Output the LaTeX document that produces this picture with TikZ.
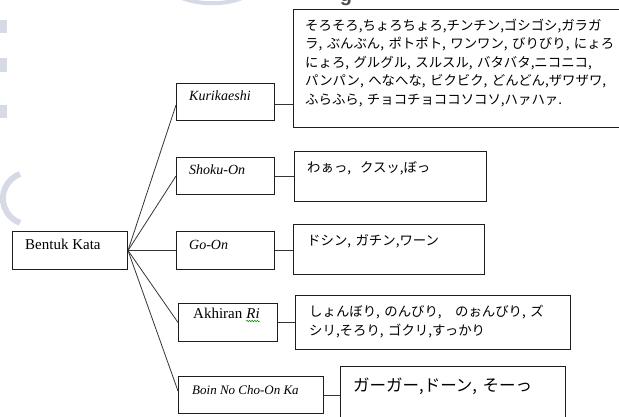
\documentclass[tikz,border=0pt]{standalone}
\usepackage{fontspec}
\setmainfont{Liberation Serif}
\newfontfamily\jpf{Noto Sans CJK JP}
\newfontfamily\wmf{Liberation Sans}
\usetikzlibrary{decorations.pathmorphing}
\definecolor{wm}{RGB}{214,217,230}
\definecolor{edge}{RGB}{30,30,30}
\begin{document}
\begin{tikzpicture}[x=1pt,y=-1pt,
  box/.style={draw=edge, line width=1pt, inner sep=0pt, anchor=north west},
  conn/.style={draw=edge!90, line width=0.8pt},
  lat/.style={inner sep=0pt, anchor=base west, font=\fontsize{14}{16}\selectfont\itshape},
  latup/.style={inner sep=0pt, anchor=base west, font=\fontsize{15}{17}\selectfont},
  jp/.style={inner sep=0pt, anchor=base west, align=left, text width=#1,
    font=\jpf\fontsize{13.4}{18.6}\selectfont},
  jp/.default=330pt]
\useasboundingbox (0,0) rectangle (619,416);
% faint watermark remnants
\fill[wm] (0,20) rectangle (7,33);
\fill[wm] (0,58) rectangle (7,72);
\fill[wm] (0,105) rectangle (7,118);
\draw[wm, line width=6pt] (20,174) arc[start angle=110, end angle=250, radius=26pt];
\draw[wm, line width=4pt] (182,-2) .. controls (200,5) and (225,5) .. (242,-2);
\node[inner sep=0pt, anchor=base, text=black!70, font=\wmf\bfseries\fontsize{20}{22}\selectfont] (wmg) at (346,1) {g};
% label boxes
\node[box, minimum width=115pt, minimum height=38pt] (bentuk) at (12,231) {};
\node[box, minimum width=98pt, minimum height=37pt] (kuri) at (176,83) {};
\node[box, minimum width=98pt, minimum height=37pt] (shoku) at (176,157) {};
\node[box, minimum width=98pt, minimum height=38pt] (go) at (176,231) {};
\node[box, minimum width=99pt, minimum height=38pt] (akh) at (178,303) {};
\node[box, minimum width=145pt, minimum height=37pt] (boin) at (178,376) {};
% example boxes
\node[box, minimum width=325.5pt, minimum height=118pt] (kuriT) at (293,9) {};
\node[box, minimum width=192pt, minimum height=50pt] (shokuT) at (294,151) {};
\node[box, minimum width=191pt, minimum height=50pt] (goT) at (293,224) {};
\node[box, minimum width=275pt, minimum height=54pt] (akhT) at (295,295) {};
\node[box, minimum width=225pt, minimum height=60pt] (boinT) at (340,366) {};
% label texts
\node[latup] (tBentuk) at (25,249) {Bentuk Kata};
\node[lat] (tKuri) at (189,100.5) {Kurikaeshi};
\node[lat] (tShoku) at (189,174.5) {Shoku-On};
\node[lat] (tGo) at (189,249) {Go-On};
\node[latup] (tAkhA) at (193,318) {Akhiran};
\node[latup, anchor=base west] (tAkhB) at ([xshift=3.6pt]tAkhA.base east) {\itshape Ri};
\draw[green!55!black, line width=0.5pt, decorate, decoration={snake, amplitude=0.8pt, segment length=2.6pt}]
  ([yshift=-3pt]tAkhB.base west) -- ([yshift=-3pt]tAkhB.base east);
\node[lat, font=\fontsize{13}{15}\selectfont\itshape] (tBoin) at (192,394) {Boin No Cho-On Ka};
% example texts
\node[jp] (eKuri) at (305,30) {そろそろ,ちょろちょろ,チンチン,ゴシゴシ,ガラガ\\
ラ, ぶんぶん, ポトポト, ワンワン, びりびり, にょろ\\
にょろ, グルグル, スルスル, バタバタ,ニコニコ,\\
パンパン, へなへな, ビクビク, どんどん,ザワザワ,\\
ふらふら, チョコチョココソコソ,ハァハァ.};
\node[jp] (eShoku) at (307,172) {わぁっ,\ \ クスッ,ぼっ};
\node[jp] (eGo) at (307,245) {ドシン, ガチン,ワーン};
\node[jp] (eAkh) at (309,316.5) {しょんぼり, のんびり,　のぉんびり, ズ\\
シリ,そろり, ゴクリ,すっかり};
\node[jp, font=\jpf\fontsize{16.5}{19}\selectfont] (eBoin) at (353,391) {ガーガー,ドーン, そーっ};
% connectors
\draw[conn] (bentuk.east) -- ([yshift=-3pt]kuri.west);
\draw[conn] (bentuk.east) -- (shoku.west);
\draw[conn] (bentuk.east) -- (go.west);
\draw[conn] (bentuk.east) -- (akh.west);
\draw[conn] (bentuk.east) -- ([yshift=4pt]boin.west);
\draw[conn] ([yshift=-2pt]kuri.east) -- ([yshift=-2pt]kuri.east -| kuriT.west);
\draw[conn] (shoku.east) -- (shoku.east -| shokuT.west);
\draw[conn] (go.east) -- (go.east -| goT.west);
\draw[conn] (akh.east) -- (akh.east -| akhT.west);
\draw[conn] (boin.east) -- (boin.east -| boinT.west);
\end{tikzpicture}
\end{document}
